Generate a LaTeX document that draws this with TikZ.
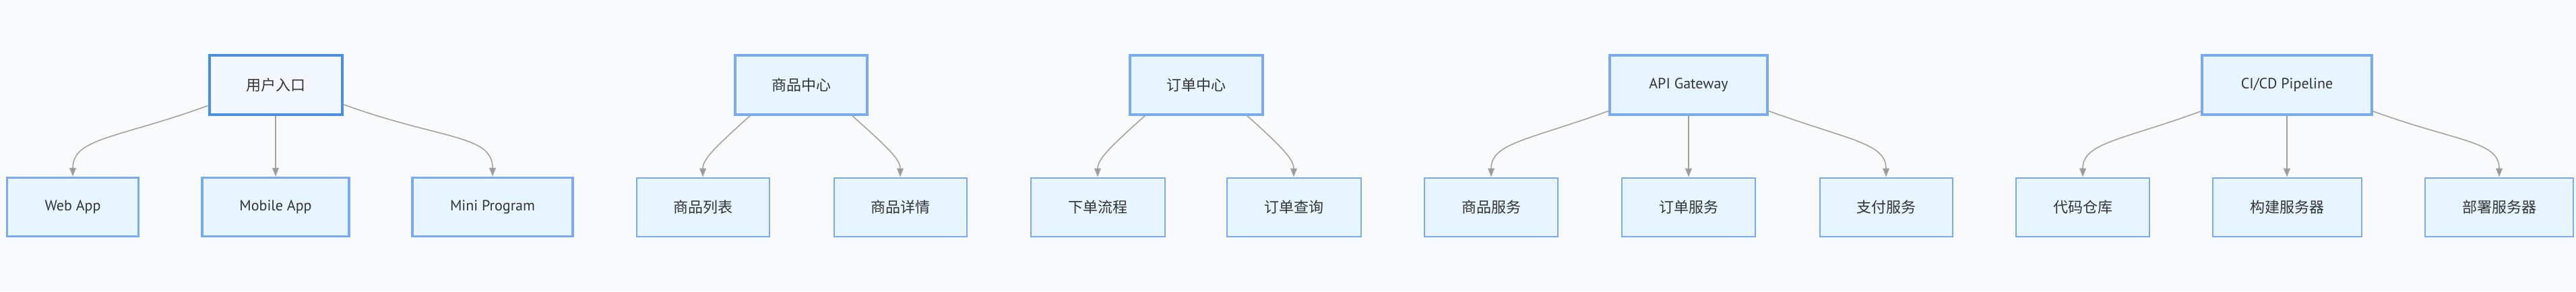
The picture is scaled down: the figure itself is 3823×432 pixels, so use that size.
\documentclass[tikz,border=0pt]{standalone}
\usepackage{fontspec}
\setmainfont{PT Sans}
\newfontfamily\cjk{Noto Sans CJK SC}
\usetikzlibrary{arrows.meta}
\definecolor{bgc}{HTML}{F8FAFC}
\definecolor{rootfill}{HTML}{F3F8FF}
\definecolor{rootline}{HTML}{4A90E2}
\definecolor{boxfill}{HTML}{E6F5FF}
\definecolor{boxline}{HTML}{7AABF0}
\definecolor{edgec}{HTML}{A3A3A3}
\definecolor{tipc}{HTML}{999999}
\definecolor{txt}{HTML}{333333}
\tikzset{
  basebox/.style={rectangle, minimum height=87, inner sep=0, text=txt, font=\fontsize{22}{26}\selectfont},
  mainroot/.style={basebox, draw=rootline, fill=rootfill, line width=4},
  toproot/.style={basebox, draw=boxline, fill=boxfill, line width=4},
  thickchild/.style={basebox, draw=boxline, fill=boxfill, line width=3.5},
  child/.style={basebox, draw=boxline, fill=boxfill, line width=2},
  edge/.style={draw=edgec, line width=1.6, -{Triangle[length=13,width=10,fill=tipc]}},
  bend3/.style={out looseness=1.6, in looseness=0.65},
  bend2/.style={out looseness=1.5, in looseness=0.6}
}
\begin{document}
\begin{tikzpicture}[x=1pt,y=1pt]
\fill[bgc] (0,0) rectangle (3823,432);
\useasboundingbox (0,0) rectangle (3823,432);
% group 1
\node[mainroot, minimum width=197] (u) at (409,306) {\cjk 用户入口};
\node[thickchild, minimum width=195] (web) at (108,125) {Web App};
\node[thickchild, minimum width=218] (mob) at (409,125) {Mobile App};
\node[thickchild, minimum width=238] (mini) at (731,125) {Mini Program};
% group 2
\node[toproot, minimum width=196] (gc) at (1189,306) {\cjk 商品中心};
\node[child, minimum width=197] (gl) at (1043,125) {\cjk 商品列表};
\node[child, minimum width=197] (gd) at (1336,125) {\cjk 商品详情};
% group 3
\node[toproot, minimum width=197] (oc) at (1775,306) {\cjk 订单中心};
\node[child, minimum width=199] (op) at (1629,125) {\cjk 下单流程};
\node[child, minimum width=199] (oq) at (1920,125) {\cjk 订单查询};
% group 4
\node[toproot, minimum width=234] (api) at (2506,306) {API Gateway};
\node[child, minimum width=198] (s1) at (2213,125) {\cjk 商品服务};
\node[child, minimum width=198] (s2) at (2506,125) {\cjk 订单服务};
\node[child, minimum width=197] (s3) at (2799,125) {\cjk 支付服务};
% group 5
\node[toproot, minimum width=252] (ci) at (3394,306) {CI/CD Pipeline};
\node[child, minimum width=198] (c1) at (3091,125) {\cjk 代码仓库};
\node[child, minimum width=221] (c2) at (3394,125) {\cjk 构建服务器};
\node[child, minimum width=220] (c3) at (3709,125) {\cjk 部署服务器};
% edges group 1
\draw[edge] (u.197) to[out=200,in=90,bend3] (web.north);
\draw[edge] (u.south) -- (mob.north);
\draw[edge] (u.344) to[out=-20,in=90,bend3] (mini.north);
% group 2
\draw[edge] (gc.211) to[out=222,in=90,bend2] (gl.north);
\draw[edge] (gc.329) to[out=-42,in=90,bend2] (gd.north);
% group 3
\draw[edge] (oc.211) to[out=222,in=90,bend2] (op.north);
\draw[edge] (oc.329) to[out=-42,in=90,bend2] (oq.north);
% group 4
\draw[edge] (api.198) to[out=200,in=90,bend3] (s1.north);
\draw[edge] (api.south) -- (s2.north);
\draw[edge] (api.342) to[out=-20,in=90,bend3] (s3.north);
% group 5
\draw[edge] (ci.197) to[out=200,in=90,bend3] (c1.north);
\draw[edge] (ci.south) -- (c2.north);
\draw[edge] (ci.343) to[out=-20,in=90,bend3] (c3.north);
\end{tikzpicture}
\end{document}
